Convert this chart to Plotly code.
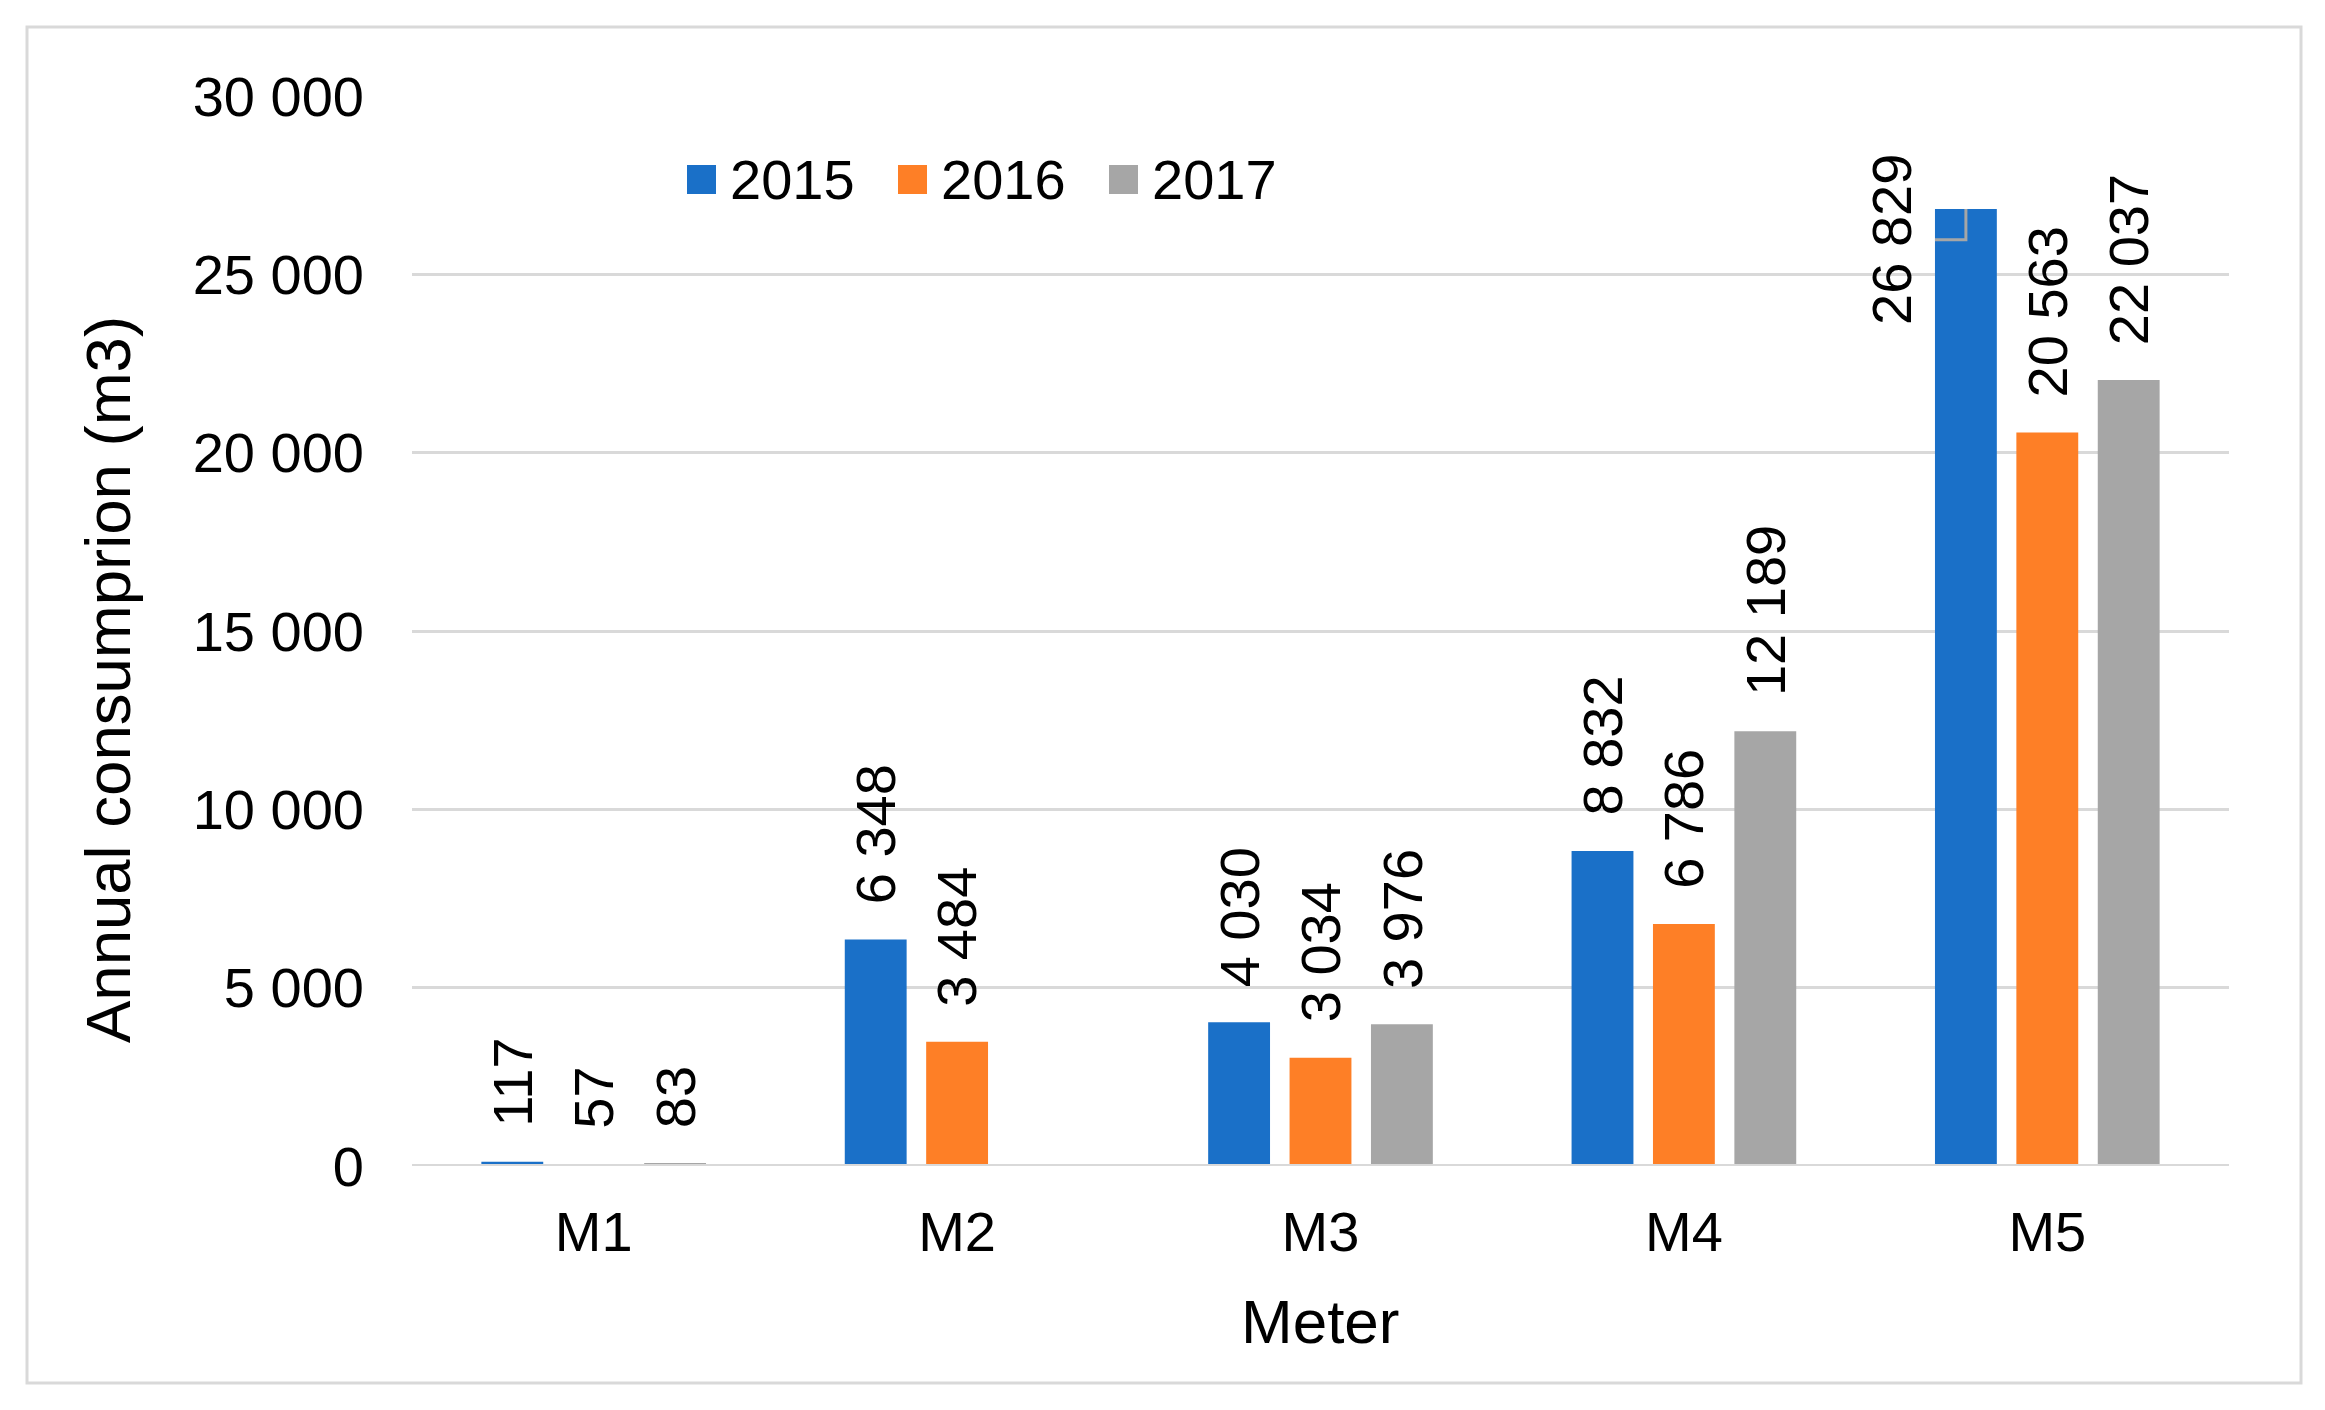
import plotly.graph_objects as go

# ---------------- data ----------------
meters = ["M1", "M2", "M3", "M4", "M5"]
years = ["2015", "2016", "2017"]
v2015 = [117, 6348, 4030, 8832, 26829]
v2016 = [57, 3484, 3034, 6786, 20563]
v2017 = [83, None, 3976, 12189, 22037]
y_ticks = [0, 5000, 10000, 15000, 20000, 25000, 30000]
x_title = "Meter"
y_title = "Annual consumprion (m3)"
leader_label = ("M5", "2015")   # label moved aside with a leader line

# ---------------- style ----------------
colors = ["#1A70C8", "#FE7F26", "#A6A6A6"]
FONT = "Liberation Sans, Arial, sans-serif"
TXT = "#000000"
GRID = "#D9D9D9"
BARGAP = 0.328
GROUPGAP = 0.24
SLOT = (1 - BARGAP) / 3
HALF_BAR = SLOT * (1 - GROUPGAP) / 2
LABEL_SHIFT = 33

W, H = 2325, 1410
ML, MR, MT, MB = 412, 96, 96, 244
PW, PH = W - ML - MR, H - MT - MB


def px2paper_x(px):
    return (px - ML) / PW


def px2paper_y(py):
    return (H - MB - py) / PH


def fmt(v):
    return f"{v:,}".replace(",", " ")


series = [v2015, v2016, v2017]

fig = go.Figure()
for name, vals, col in zip(years, series, colors):
    fig.add_trace(go.Bar(x=meters, y=vals, name=name, marker_color=col,
                         marker_line_width=0, showlegend=False))

annotations = []
shapes = []

# data labels
for k, (name, vals) in enumerate(zip(years, series)):
    for i, (m, v) in enumerate(zip(meters, vals)):
        if v is None:
            continue
        xc = i + (k - 1) * SLOT
        if (m, name) == leader_label:
            drop = 860
            annotations.append(dict(x=xc - 0.203, y=v - drop, xref="x", yref="y",
                                    text=fmt(v), textangle=-90, showarrow=False,
                                    xanchor="center", yanchor="middle",
                                    font=dict(size=56, color=TXT, family=FONT)))
            shapes.append(dict(type="path", xref="x", yref="y",
                               path=f"M {xc - HALF_BAR},{v - drop} L {xc},{v - drop} L {xc},{v}",
                               line=dict(color="#A6A6A6", width=3)))
        else:
            annotations.append(dict(x=xc, y=v, xref="x", yref="y",
                                    text=fmt(v), textangle=-90, showarrow=False,
                                    xanchor="center", yanchor="bottom",
                                    yshift=LABEL_SHIFT,
                                    font=dict(size=56, color=TXT, family=FONT)))

# category axis base line (drawn over the bars, as in the original)
shapes.append(dict(type="line", xref="paper", yref="y", x0=0, x1=1, y0=0, y1=0,
                   line=dict(color=GRID, width=4), layer="above"))

# custom legend
for k, (name, col) in enumerate(zip(years, colors)):
    x0 = 687 + k * 211
    shapes.append(dict(type="rect", xref="paper", yref="paper",
                       x0=px2paper_x(x0), x1=px2paper_x(x0 + 29),
                       y0=px2paper_y(194), y1=px2paper_y(165),
                       fillcolor=col, line=dict(width=0)))
    annotations.append(dict(x=px2paper_x(x0 + 41), y=px2paper_y(179),
                            xref="paper", yref="paper", text=name,
                            showarrow=False, xanchor="left", yanchor="middle",
                            font=dict(size=56, color=TXT, family=FONT)))

# axis titles
annotations.append(dict(x=px2paper_x(1320), y=px2paper_y(1321), xref="paper",
                        yref="paper", text=x_title, showarrow=False,
                        xanchor="center", yanchor="middle",
                        font=dict(size=62, color=TXT, family=FONT)))
annotations.append(dict(x=px2paper_x(108), y=px2paper_y(680), xref="paper",
                        yref="paper", text=y_title, showarrow=False,
                        textangle=-90, xanchor="center", yanchor="middle",
                        font=dict(size=63.5, color=TXT, family=FONT)))

# outer chart border
shapes.append(dict(type="rect", xref="paper", yref="paper",
                   x0=px2paper_x(27), x1=px2paper_x(2301),
                   y0=px2paper_y(1383), y1=px2paper_y(27),
                   line=dict(color=GRID, width=3), layer="below"))

fig.update_layout(
    width=W, height=H,
    margin=dict(l=ML, r=MR, t=MT, b=MB),
    paper_bgcolor="white", plot_bgcolor="white",
    barmode="group", bargap=BARGAP, bargroupgap=GROUPGAP,
    separators=". ",
    font=dict(family=FONT, size=56, color=TXT),
    showlegend=False,
    annotations=annotations,
    shapes=shapes,
    xaxis=dict(showgrid=False, showline=False, zeroline=False, ticks="",
               tickfont=dict(size=56, color=TXT, family=FONT),
               ticklabelstandoff=28),
    yaxis=dict(range=[0, 30000], tickvals=y_ticks, tickformat=",",
               showgrid=True, gridcolor=GRID, gridwidth=2.5,
               zeroline=False, showline=False, ticks="",
               tickfont=dict(size=56, color=TXT, family=FONT),
               ticklabelstandoff=47),
)

fig.write_html("out.html", config={"displayModeBar": False},
               post_script="document.body.style.margin='0';document.body.style.padding='0';")
